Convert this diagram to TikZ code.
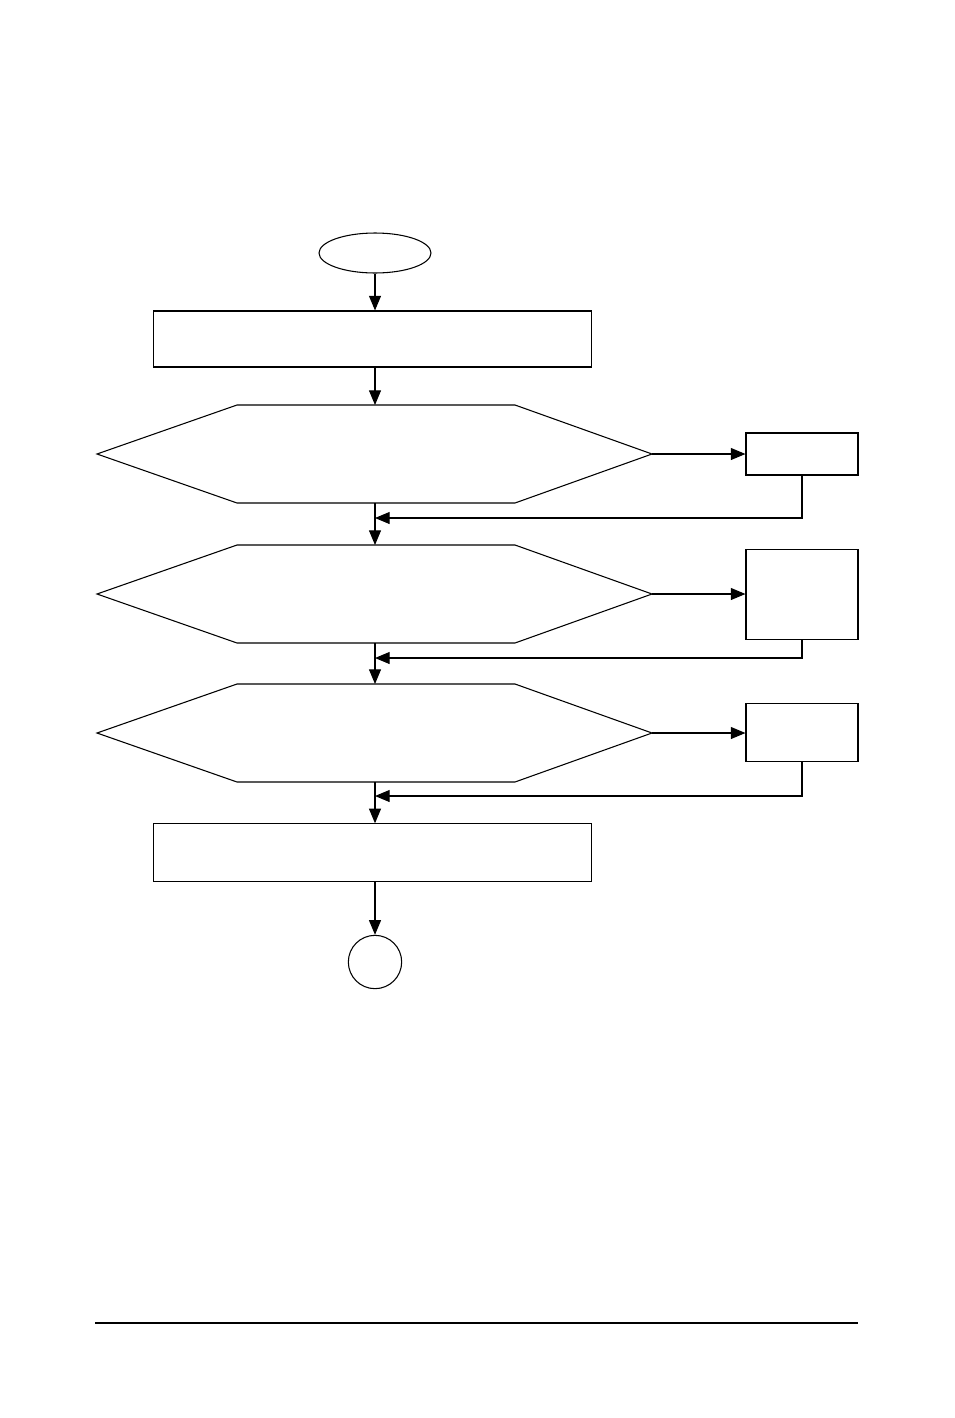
\documentclass[tikz,border=0pt]{standalone}
\usetikzlibrary{arrows.meta, shapes.geometric}
\begin{document}
\begin{tikzpicture}[
        x=0.75pt, y=-0.75pt,
        line width=0.8pt,
        flow/.style = {draw, -{Triangle[length=11pt,width=9pt]}}, % Стрелки
        blockbox/.style = {draw, rectangle, inner sep=0pt}, % Блоки
    ]
    \useasboundingbox (0,0) rectangle (954,1418);

    \node[draw, ellipse, minimum width=84pt, minimum height=30pt] (start) at (375,253) {};
    \node[blockbox, minimum width=329pt, minimum height=42pt] (init) at (372.5,339) {};
    \node[blockbox, minimum width=329pt, minimum height=43pt] (final) at (372.5,852.5) {};
    \node[draw, circle, minimum size=40pt, inner sep=0pt] (stop) at (375,962) {};

    % Ветвления
    \foreach \name/\yc in {hexa/454, hexb/594, hexc/733} {
        \draw (97,\yc) -- (237,\yc-49) -- (515,\yc-49) -- (652,\yc) -- (515,\yc+49) -- (237,\yc+49) -- cycle;
        \coordinate (\name-n) at (375,\yc-49);
        \coordinate (\name-s) at (375,\yc+49);
        \coordinate (\name-e) at (652,\yc);
    }

    \node[blockbox, minimum width=84pt, minimum height=31.5pt] (taska) at (802,454) {};
    \node[blockbox, minimum width=84pt, minimum height=68pt] (taskb) at (802,594.5) {};
    \node[blockbox, minimum width=84pt, minimum height=44pt] (taskc) at (802,732.5) {};

    \draw[flow] (start.south) -- (start.south |- init.north);
    \draw[flow] (hexa-n |- init.south) -- (hexa-n);
    \draw[flow] (hexa-s) -- (hexb-n);
    \draw[flow] (hexb-s) -- (hexc-n);
    \draw[flow] (hexc-s) -- (hexc-s |- final.north);
    \draw[flow] (stop.north |- final.south) -- (stop.north);

    \draw[flow] (hexa-e) -- (taska.west |- hexa-e);
    \draw[flow] (hexb-e) -- (taskb.west |- hexb-e);
    \draw[flow] (hexc-e) -- (taskc.west |- hexc-e);

    \coordinate (backa) at (375,518);
    \coordinate (backb) at (375,658);
    \coordinate (backc) at (375,796);
    \draw[flow] (taska.south) |- (backa);
    \draw[flow] (taskb.south) |- (backb);
    \draw[flow] (taskc.south) |- (backc);

    \draw (95,1323) -- (858,1323);
\end{tikzpicture}
\end{document}
